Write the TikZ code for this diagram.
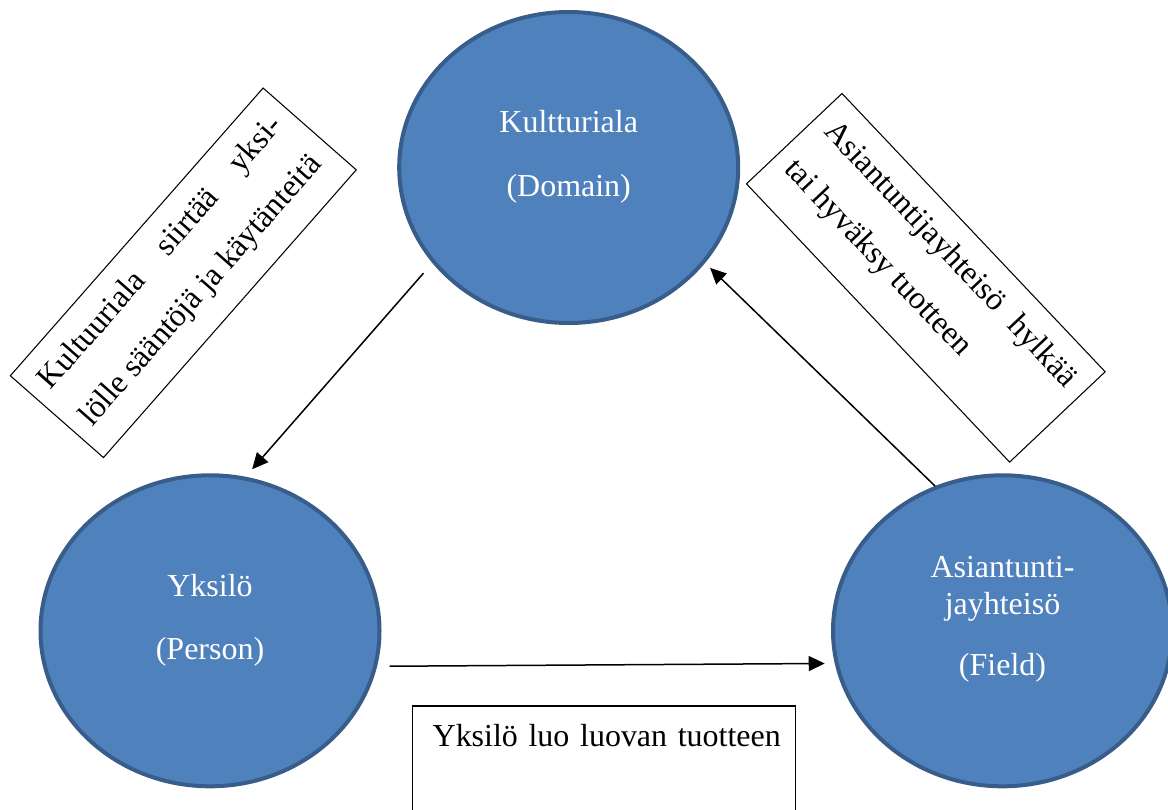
\documentclass[tikz,border=0pt]{standalone}
\usepackage{fontspec}
\setmainfont{Liberation Serif}
\usetikzlibrary{shapes.geometric, arrows.meta}

\definecolor{bubblefill}{HTML}{4F81BD}
\definecolor{bubbleline}{HTML}{385D8A}

\begin{document}
\begin{tikzpicture}[
    bubble/.style={ellipse, draw=bubbleline, fill=bubblefill, line width=0.08cm,
        minimum width=6.78cm, minimum height=6.22cm},
    bubbletext/.style={text=white, align=center, font=\fontsize{18.2}{21.6}\selectfont},
    notebox/.style={draw, line width=0.6pt, minimum width=7.66cm, inner sep=0pt, outer sep=0pt},
    notetext/.style={anchor=north west, inner xsep=0.3cm, inner ysep=0.36cm, text width=7.05cm,
        align=justify, font=\fontsize{18.2}{31.3}\selectfont},
    flow/.style={-{Triangle[length=0.32cm,width=0.3cm]}, line width=0.03cm}
]
\useasboundingbox (0,0) rectangle (23.36,16.18);
\clip (0,0) rectangle (23.36,16.18);

% the three circles
\node[bubble] (domain) at (11.374,12.83) {};
\node[bubble] (person) at (4.2,3.564) {};
\node[bubble] (field) at (20.05,3.564) {};

\node[bubbletext, yshift=0.21cm] (domainname) at (domain) {Kultturiala\\[0.52cm](Domain)};
\node[bubbletext, yshift=0.21cm] (personname) at (person) {Yksilö\\[0.51cm](Person)};
\node[bubbletext, yshift=0.23cm] (fieldname) at (field) {Asiantunti-\\jayhteisö\\[0.46cm](Field)};

% arrows between them
\draw[flow, shorten <=0.27cm, shorten >=0.2cm] (domain.215) -- (person.77);
\draw[flow, shorten <=0.25cm, shorten >=0.2cm] (person.348) -- (field.191);
\draw[flow, shorten >=0.14cm] (field.115) -- (domain.325);

% text boxes
\node[notebox, minimum height=2.48cm, rotate=48.7] (rulesbox) at (3.666,10.724) {};
\node[notetext, rotate=48.7] (rulestext) at (rulesbox.north west)
    {Kultuuriala siirtää yksi-\linebreak lölle sääntöjä ja käytänteitä};

\node[notebox, minimum height=2.63cm, rotate=-46.6] (judgebox) at (18.516,10.624) {};
\node[notetext, rotate=-46.6] (judgetext) at (judgebox.north west)
    {Asiantuntijayhteisö hylkää\linebreak tai hyväksy tuotteen};

\node[notebox, minimum height=2.6cm, anchor=north west] (makebox) at (8.246,2.06) {};
\node[notetext, align=left, inner xsep=0.4cm] (maketext) at (makebox.north west) {Yksilö luo luovan tuotteen};
\end{tikzpicture}
\end{document}
